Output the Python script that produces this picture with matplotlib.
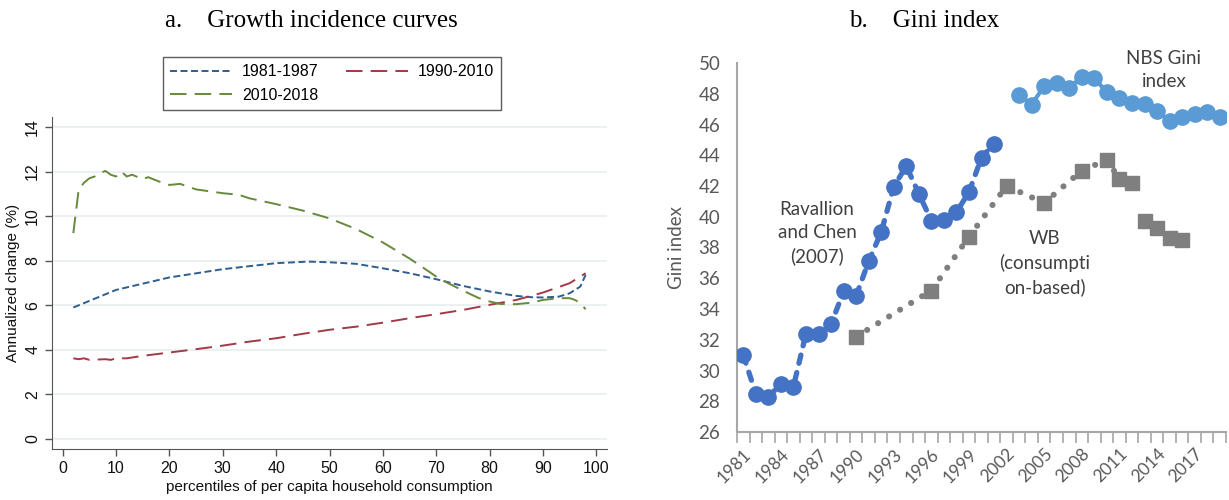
import matplotlib
matplotlib.use("Agg")
import matplotlib.pyplot as plt
import numpy as np

# panel a: growth incidence curves (annualized growth by percentile)
gic_pct_8187 = [2, 10, 20, 30, 40, 46, 50, 55, 60, 65, 70, 75, 80, 85, 88, 90, 93, 95, 97, 98]
gic_8187 = [5.90, 6.69, 7.25, 7.62, 7.89, 7.96, 7.93, 7.86, 7.66, 7.44, 7.17, 6.87, 6.62,
            6.42, 6.36, 6.35, 6.39, 6.54, 6.84, 7.37]

gic_pct_9010 = [2, 3, 4, 5, 8, 9, 10, 12, 15, 20, 25, 30, 35, 40, 45, 50, 55, 60, 65, 70,
                75, 80, 85, 90, 95, 98]
gic_9010 = [3.62, 3.58, 3.62, 3.55, 3.58, 3.55, 3.62, 3.62, 3.73, 3.88, 4.03, 4.19, 4.37,
            4.52, 4.72, 4.90, 5.04, 5.22, 5.42, 5.60, 5.79, 6.02, 6.24, 6.57, 6.99, 7.44]

gic_pct_1018 = [2, 3, 4, 5, 6, 7, 8, 9, 10, 11, 12, 13, 15, 16, 18, 20, 22, 25, 30, 33, 35,
                40, 45, 50, 55, 60, 65, 70, 72, 75, 78, 80, 82, 85, 88, 90, 93, 95, 96, 97, 98]
gic_1018 = [9.24, 11.2, 11.5, 11.7, 11.78, 11.93, 12.03, 11.86, 11.78, 12.0, 11.78, 11.86,
            11.66, 11.75, 11.56, 11.4, 11.45, 11.2, 11.03, 10.96, 10.8, 10.54, 10.25, 9.9,
            9.42, 8.82, 8.1, 7.29, 7.02, 6.66, 6.32, 6.17, 6.06, 6.05, 6.12, 6.24, 6.32,
            6.32, 6.24, 6.1, 5.82]

# panel b: Gini index series
years = list(range(1981, 2020))

rc_years = list(range(1981, 2002))
rc_gini = [31.0, 28.5, 28.3, 29.1, 28.95, 32.4, 32.4, 33.0, 35.15, 34.85, 37.1, 39.0,
           41.95, 43.3, 41.5, 39.75, 39.8, 40.3, 41.6, 43.85, 44.75]

wb_years = [1990, 1996, 1999, 2002, 2005, 2008, 2010, 2011, 2012, 2013, 2014, 2015, 2016]
wb_gini = [32.2, 35.2, 38.7, 42.0, 40.9, 43.0, 43.7, 42.45, 42.2, 39.7, 39.25, 38.6, 38.5]

nbs_years = list(range(2003, 2020))
nbs_gini = [47.95, 47.3, 48.5, 48.7, 48.4, 49.1, 49.0, 48.1, 47.7, 47.4, 47.35, 46.9,
            46.2, 46.5, 46.7, 46.8, 46.5]

fig = plt.figure(figsize=(12.29, 5.0), dpi=100)

# ---- panel a ----
ax1 = fig.add_axes([52/1229, 1-449/500, (607-52)/1229, (449-117)/500])
sans = "Liberation Sans"
c_blue, c_red, c_green = "#2f5e8e", "#a03a47", "#67893b"
l1, = ax1.plot(gic_pct_8187, gic_8187, color=c_blue, lw=1.4, ls=(0, (3.6, 1.8)))
l2, = ax1.plot(gic_pct_9010, gic_9010, color=c_red, lw=1.4, ls=(0, (8.5, 4.2)))
l3, = ax1.plot(gic_pct_1018, gic_1018, color=c_green, lw=1.4, ls=(0, (8.5, 4.2)))
ax1.set_xlim(-2, 102)
ax1.set_ylim(-0.45, 14.45)
ax1.set_xticks(range(0, 101, 10))
ax1.set_yticks(range(0, 15, 2))
ax1.grid(axis="y", color="#e6eeee", lw=1.1)
ax1.set_axisbelow(True)
for s in ["top", "right"]:
    ax1.spines[s].set_visible(False)
for s in ["left", "bottom"]:
    ax1.spines[s].set_color("#555555")
ax1.tick_params(colors="#555555", labelcolor="#111111", labelsize=11.5, length=5, width=1)
for lab in ax1.get_xticklabels() + ax1.get_yticklabels():
    lab.set_fontfamily(sans)
for lab in ax1.get_yticklabels():
    lab.set_rotation(90)
    lab.set_va("center")
ax1.set_xlabel("percentiles of per capita household consumption", fontsize=11,
               family=sans, color="#111111", labelpad=3)
ax1.set_ylabel("Annualized change (%)", fontsize=11, family=sans, color="#111111",
               labelpad=4)
leg = fig.legend([l1, l3, l2], ["1981-1987", "2010-2018", "1990-2010"], ncol=2,
                 loc="upper left", bbox_to_anchor=(163/1229, 1-57/500),
                 prop={"family": sans, "size": 11.5}, handlelength=3.9, columnspacing=1.7,
                 frameon=True, fancybox=False, borderpad=0.45, labelspacing=0.55,
                 handletextpad=0.6, borderaxespad=0)
leg.get_frame().set_edgecolor("#333333")
leg.get_frame().set_linewidth(1.0)

fig.text(311/1229, 1-21/500, "a.    Growth incidence curves", ha="center", va="center",
         family="Liberation Serif", fontsize=18)

# ---- panel b ----
cal = "Lato"
ax2 = fig.add_axes([737/1229, 1-432/500, (1226-737)/1229, (432-63)/500])
pos = {y: i for i, y in enumerate(years)}

ax2.plot([pos[y] for y in rc_years], rc_gini, color="#4472c4", lw=3.8,
         ls=(0, (1.6, 1.8)), dash_capstyle="round", marker="o", ms=11,
         mec="#4472c4", zorder=3)

brk = wb_years.index(2013)
for ys, vs in [(wb_years[:brk], wb_gini[:brk]), (wb_years[brk:], wb_gini[brk:])]:
    ax2.plot([pos[y] for y in ys], vs, color="#7f7f7f", lw=4.4, ls=(0, (0.01, 2.1)),
             dash_capstyle="round", marker="s", ms=10.5, mec="#7f7f7f", zorder=3)

ax2.plot([pos[y] for y in nbs_years], nbs_gini, color="#5b9bd5", lw=3.0, marker="o",
         ms=11, mec="#5b9bd5", zorder=3)

ax2.set_xlim(-0.5, len(years) - 0.5)
ax2.set_ylim(26, 50)
ax2.set_yticks(range(26, 51, 2))
ax2.set_xticks(range(0, len(years), 3))
ax2.set_xticklabels([str(years[i]) for i in range(0, len(years), 3)], rotation=45,
                    ha="right", rotation_mode="anchor", family=cal, fontsize=12.5,
                    color="#595959")
ax2.set_xticks(np.arange(-0.5, len(years), 1), minor=True)
ax2.tick_params(axis="x", which="major", length=0, pad=10)
ax2.tick_params(axis="x", which="minor", length=8, width=1.2, color="#a6a6a6")
ax2.tick_params(axis="y", length=0, pad=12, labelsize=13.5, labelcolor="#595959")
for lab in ax2.get_yticklabels():
    lab.set_fontfamily(cal)
for s in ["top", "right"]:
    ax2.spines[s].set_visible(False)
for s in ["left", "bottom"]:
    ax2.spines[s].set_color("#a6a6a6")
    ax2.spines[s].set_linewidth(1.5)
ax2.set_ylabel("Gini index", family=cal, fontsize=13.5, color="#595959", labelpad=10)

note = dict(ha="center", va="center", family=cal, fontsize=13.5, color="#404040",
            linespacing=1.45)
fig.text(1164/1229, 1-70/500, "NBS Gini\nindex", **note)
fig.text(817/1229, 1-233/500, "Ravallion\nand Chen\n(2007)", **note)
fig.text(1045/1229, 1-263/500, "WB\n(consumpti\non-based)", **note)

fig.text(924/1229, 1-21/500, "b.    Gini index", ha="center", va="center",
         family="Liberation Serif", fontsize=18)

fig.savefig("out.png", dpi=100)
